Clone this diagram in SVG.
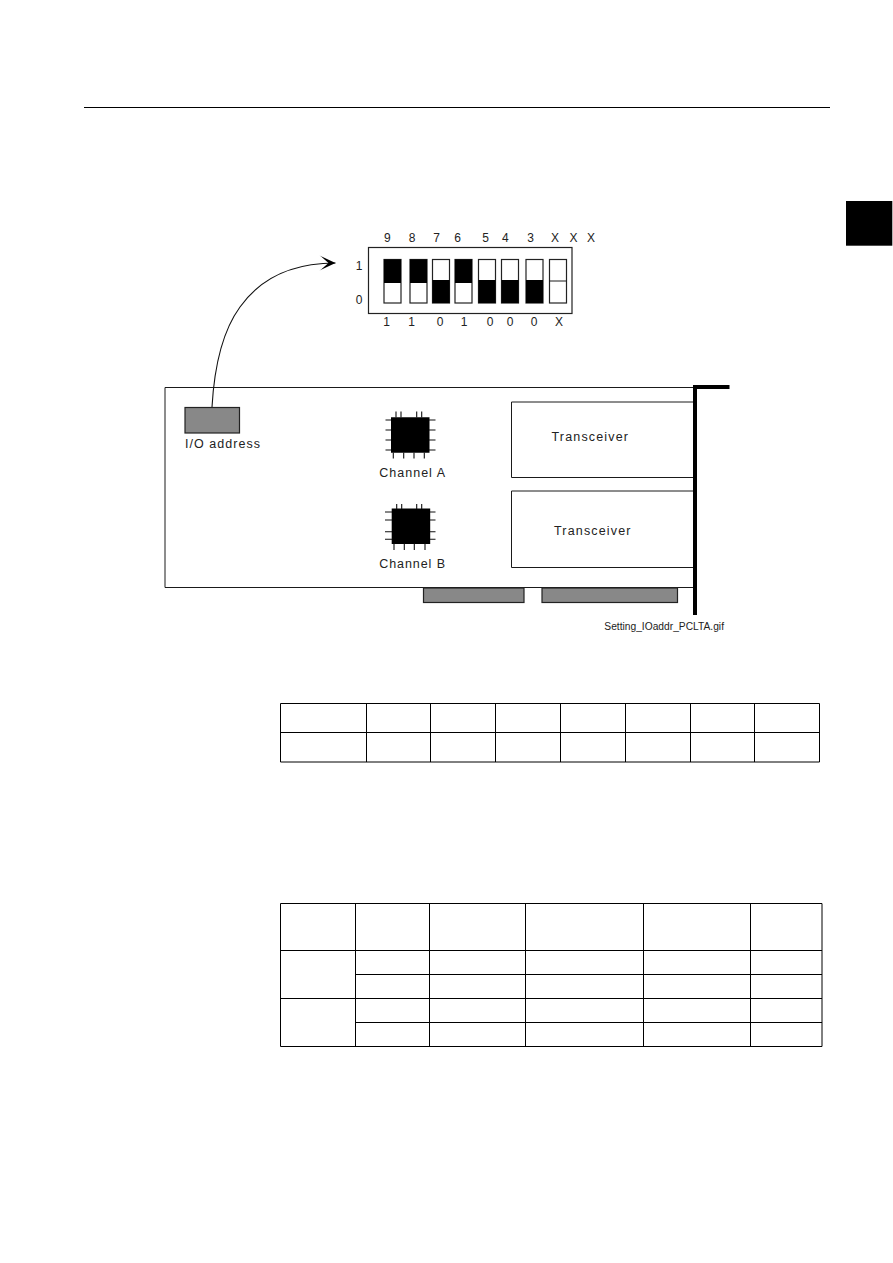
<svg xmlns="http://www.w3.org/2000/svg" width="893" height="1263" viewBox="0 0 893 1263">
  <defs>
    <!-- Black square body shared by both controller chips -->
    <path id="chip-body" d="M0 0H38.5V35.5H0Z" fill="#000"/>
    <marker id="open-head" markerUnits="userSpaceOnUse" markerWidth="20" markerHeight="20" refX="16" refY="8" orient="auto" overflow="visible">
      <path d="M0 0.5 L16 8 L0 15.5 L1.6 14.6 L9 8 L1.6 1.4 Z" fill="#000"/>
    </marker>
  </defs>
  <style>
    .ln { fill: none; stroke: #1a1a1a; stroke-width: 1; }
    .box { fill: #fff; stroke: #222; stroke-width: 1.2; }
    .slot { fill: #888; stroke: #222; stroke-width: 1.2; }
    .sw { fill: #fff; stroke: #222; stroke-width: 1.2; }
    .on { fill: #000; }
    .pin { fill: none; stroke: #111; stroke-width: 1.1; }
    .tb { fill: none; stroke: #000; stroke-width: 1; }
    text { font-family: "Liberation Sans", Arial, sans-serif; fill: #222; }
    .d { font-size: 12px; text-anchor: middle; }
    .l { font-size: 12.5px; }
  </style>

  <rect width="893" height="1263" fill="#fff"/>

  <g id="page-header"><path d="M84 107.5H830" stroke="#000" stroke-width="1.2" fill="none"/></g>
  <g id="chapter-tab"><rect x="846" y="201" width="46.3" height="44.7" fill="#000"/></g>

  <g id="dip-switch">
    <rect class="box" x="368.5" y="247.5" width="203.5" height="66"/>
    <g id="sw-9"><rect class="sw" x="384" y="259.5" width="17" height="43.5"/><rect class="on" x="384" y="259.5" width="17" height="23.5"/></g>
    <g id="sw-8"><rect class="sw" x="410" y="259.5" width="17" height="43.5"/><rect class="on" x="410" y="259.5" width="17" height="23.5"/></g>
    <g id="sw-7"><rect class="sw" x="432.5" y="259.5" width="17" height="43.5"/><rect class="on" x="432.5" y="280" width="17" height="23"/></g>
    <g id="sw-6"><rect class="sw" x="455" y="259.5" width="17" height="43.5"/><rect class="on" x="455" y="259.5" width="17" height="23.5"/></g>
    <g id="sw-5"><rect class="sw" x="478.5" y="259.5" width="17" height="43.5"/><rect class="on" x="478.5" y="280" width="17" height="23"/></g>
    <g id="sw-4"><rect class="sw" x="501.5" y="259.5" width="17" height="43.5"/><rect class="on" x="501.5" y="280" width="17" height="23"/></g>
    <g id="sw-3"><rect class="sw" x="526" y="259.5" width="17" height="43.5"/><rect class="on" x="526" y="280" width="17" height="23"/></g>
    <g id="sw-x"><rect class="sw" x="549.5" y="259.5" width="17" height="43.5"/><path class="ln" d="M549.5 281H566.5"/></g>
    <g id="dip-top-labels">
      <text class="d" x="387.3" y="241.5">9</text><text class="d" x="412" y="241.5">8</text>
      <text class="d" x="436.7" y="241.5">7</text><text class="d" x="457.5" y="241.5">6</text>
      <text class="d" x="485.7" y="241.5">5</text><text class="d" x="505.3" y="241.5">4</text>
      <text class="d" x="530.7" y="241.5">3</text><text class="d" x="555" y="241.5">X</text>
      <text class="d" x="573.5" y="241.5">X</text><text class="d" x="591" y="241.5">X</text>
    </g>
    <g id="dip-bottom-labels">
      <text class="d" x="386.7" y="326">1</text><text class="d" x="411.7" y="326">1</text>
      <text class="d" x="440" y="326">0</text><text class="d" x="464" y="326">1</text>
      <text class="d" x="490" y="326">0</text><text class="d" x="510" y="326">0</text>
      <text class="d" x="534" y="326">0</text><text class="d" x="559" y="326">X</text>
    </g>
    <text class="d" x="359" y="270">1</text>
    <text class="d" x="359" y="303.5">0</text>
  </g>

  <g id="card">
    <path class="ln" d="M695 387.5H165V587.5H695" stroke-width="1.2"/>
    <g id="slot-left"><rect class="slot" x="423.5" y="588" width="100.5" height="14.5"/></g>
    <g id="slot-right"><rect class="slot" x="542" y="588" width="135.5" height="14.5"/></g>
    <g id="transceiver-a">
      <path class="ln" d="M694 402H511.5V477.5H694" stroke-width="1.2"/>
      <text class="l" x="551.5" y="440.5" textLength="76.5" lengthAdjust="spacing">Transceiver</text>
    </g>
    <g id="transceiver-b">
      <path class="ln" d="M694 491H511.5V567.5H694" stroke-width="1.2"/>
      <text class="l" x="554" y="535" textLength="76.5" lengthAdjust="spacing">Transceiver</text>
    </g>
    <g id="bracket">
      <path d="M695 615V387H729.5" fill="none" stroke="#000" stroke-width="4" stroke-linejoin="miter"/>
    </g>
    <g id="io-block">
      <rect class="slot" x="185" y="407.5" width="54.5" height="25.5"/>
      <text class="l" x="185" y="448" textLength="75" lengthAdjust="spacing">I/O address</text>
    </g>
    <g id="chip-a">
      <use href="#chip-body" x="391" y="417.3"/>
      <path class="pin" d="M396 411.5V417.5M401 411.5V417.5M416.7 411.5V417.5M421.7 411.5V417.5M393.3 452.5V458.5M403.7 452.5V458.5M414 452.5V458.5M424.3 452.5V458.5M385.5 420H391M385.5 430H391M385.5 440H391M385.5 450H391M429 420H435.5M429 430H435.5M429 440H435.5M429 450H435.5"/>
      <text class="l" x="379.3" y="476.5" textLength="65.7" lengthAdjust="spacing">Channel A</text>
    </g>
    <g id="chip-b">
      <use href="#chip-body" x="391.7" y="508.4"/>
      <path class="pin" d="M396.7 504V509M401.7 504V509M416.7 504V509M421.7 504V509M394 543.5V550M404.3 543.5V550M414.3 543.5V550M425 543.5V550M385 512H392M385 520H392M385 531.7H392M385 539.3H392M430 512H435.5M430 520H435.5M430 531.7H435.5M430 539.3H435.5"/>
      <text class="l" x="379.3" y="568.3" textLength="65.7" lengthAdjust="spacing">Channel B</text>
    </g>
    <text id="file-name" x="604.3" y="630" font-size="10" textLength="119.7" lengthAdjust="spacingAndGlyphs">Setting_IOaddr_PCLTA.gif</text>
  </g>

  <g id="connectors">
    <path d="M212 407C214 372 221 333 240 307C262 276 294 263 335.5 263" fill="none" stroke="#111" stroke-width="1.1" marker-end="url(#open-head)"/>
  </g>

  <g id="table-upper">
    <path class="tb" d="M280.5 703.5H819.5V762H280.5ZM280.5 732.5H819.5M366.5 703.5V762M430.5 703.5V762M495.5 703.5V762M560.5 703.5V762M625.5 703.5V762M690.5 703.5V762M754.5 703.5V762"/>
  </g>
  <g id="table-lower">
    <path class="tb" d="M280.5 903.5H822V1046.5H280.5ZM280.5 950.5H822M355.5 974.5H822M280.5 998.5H822M355.5 1022.5H822M355.5 903.5V1046.5M429.5 903.5V1046.5M525.5 903.5V1046.5M643.5 903.5V1046.5M750.5 903.5V1046.5"/>
  </g>
</svg>
